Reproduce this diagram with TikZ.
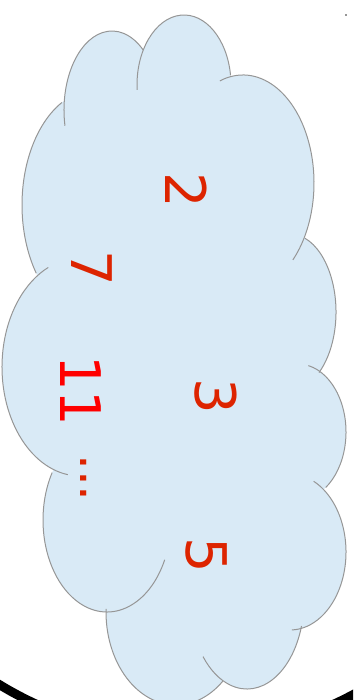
\documentclass[tikz,border=0pt]{standalone}
\usepackage{fontspec}
\setmainfont{DejaVu Sans}
\definecolor{cloudblue}{RGB}{217,234,246}
\definecolor{cloudgray}{RGB}{150,150,150}
\definecolor{numred}{RGB}{221,36,0}
\definecolor{brightred}{RGB}{255,0,0}
\tikzset{
  cloudfill/.style={fill=cloudblue},
  cloudline/.style={draw=cloudgray, line width=1pt},
  num/.style={text=numred, font=\fontsize{56}{60}\selectfont, inner sep=0pt, rotate=-90},
  ring/.style={draw=black, line width=9pt}
}
\begin{document}
\begin{tikzpicture}[x=1pt,y=-1pt]
\useasboundingbox (0,0) rectangle (353,700);
\clip (0,0) rectangle (353,700);
% lower part of a big ring, only visible at the bottom corners
\draw[ring] (185,380) ++(20:356.7) arc [start angle=20, end angle=160, radius=356.7];
% cloud fill
\fill[cloudfill] (143,55) -- (231,82) -- (300,240) -- (314,373) -- (320,488) -- (292,624) -- (223,676) -- (110,610) -- (58,472) -- (38,277) -- (68,110) -- cycle;
\fill[cloudfill] (112,110) ellipse [x radius=48, y radius=79];
\fill[cloudfill] (184,85) ellipse [x radius=47, y radius=70];
\fill[cloudfill] (243,183) ellipse [x radius=71, y radius=108];
\fill[cloudfill] (290,312) ellipse [x radius=46, y radius=78];
\fill[cloudfill] (298,432) ellipse [x radius=48, y radius=68];
\fill[cloudfill] (290,552) ellipse [x radius=56, y radius=78];
\fill[cloudfill] (247,600) ellipse [x radius=57, y radius=89];
\fill[cloudfill] (176,612) ellipse [x radius=70, y radius=93];
\fill[cloudfill] (107,520) ellipse [x radius=64, y radius=92];
\fill[cloudfill] (80,367) ellipse [x radius=78, y radius=109];
\fill[cloudfill] (95,205) ellipse [x radius=73, y radius=115];
% cloud outline arcs
\draw[cloudline] (112,110) ++(168.5:48 and 79) arc [start angle=168.5, end angle=310.4, x radius=48, y radius=79];
\draw[cloudline] (184,85) ++(176:47 and 70) arc [start angle=176, end angle=352, x radius=47, y radius=70];
\draw[cloudline] (243,183) ++(251:71 and 108) arc [start angle=251, end angle=405.4, x radius=71, y radius=108];
\draw[cloudline] (290,312) ++(289:46 and 78) arc [start angle=289, end angle=411, x radius=46, y radius=78];
\draw[cloudline] (298,432) ++(282.5:48 and 68) arc [start angle=282.5, end angle=414.7, x radius=48, y radius=68];
\draw[cloudline] (290,552) ++(295:56 and 78) arc [start angle=295, end angle=448, x radius=56, y radius=78];
\draw[cloudline] (247,600) ++(17:57 and 89) arc [start angle=17, end angle=140.5, x radius=57, y radius=89];
\draw[cloudline] (176,612) ++(48:70 and 93) arc [start angle=48, end angle=182, x radius=70, y radius=93];
\draw[cloudline] (107,520) ++(25.6:64 and 92) arc [start angle=25.6, end angle=211, x radius=64, y radius=92];
\draw[cloudline] (80,367) ++(99:78 and 109) arc [start angle=99, end angle=246, x radius=78, y radius=109];
\draw[cloudline] (95,205) ++(143.6:73 and 115) arc [start angle=143.6, end angle=243, x radius=73, y radius=115];
% tiny dot top right
\fill[cloudgray] (345,14) rectangle (347,16);
% numbers
\node[num] (n2) at (186,190) {2};
\node[num] (n7) at (92,268) {7};
\node[num, text=brightred] (n11) at (81,391) {11};
\node[num] (n3) at (216,396) {3};
\node[num] (n5) at (207,555) {5};
\node[num, font=\fontsize{50}{54}\selectfont] (dots) at (84,478) {...};
\end{tikzpicture}
\end{document}
